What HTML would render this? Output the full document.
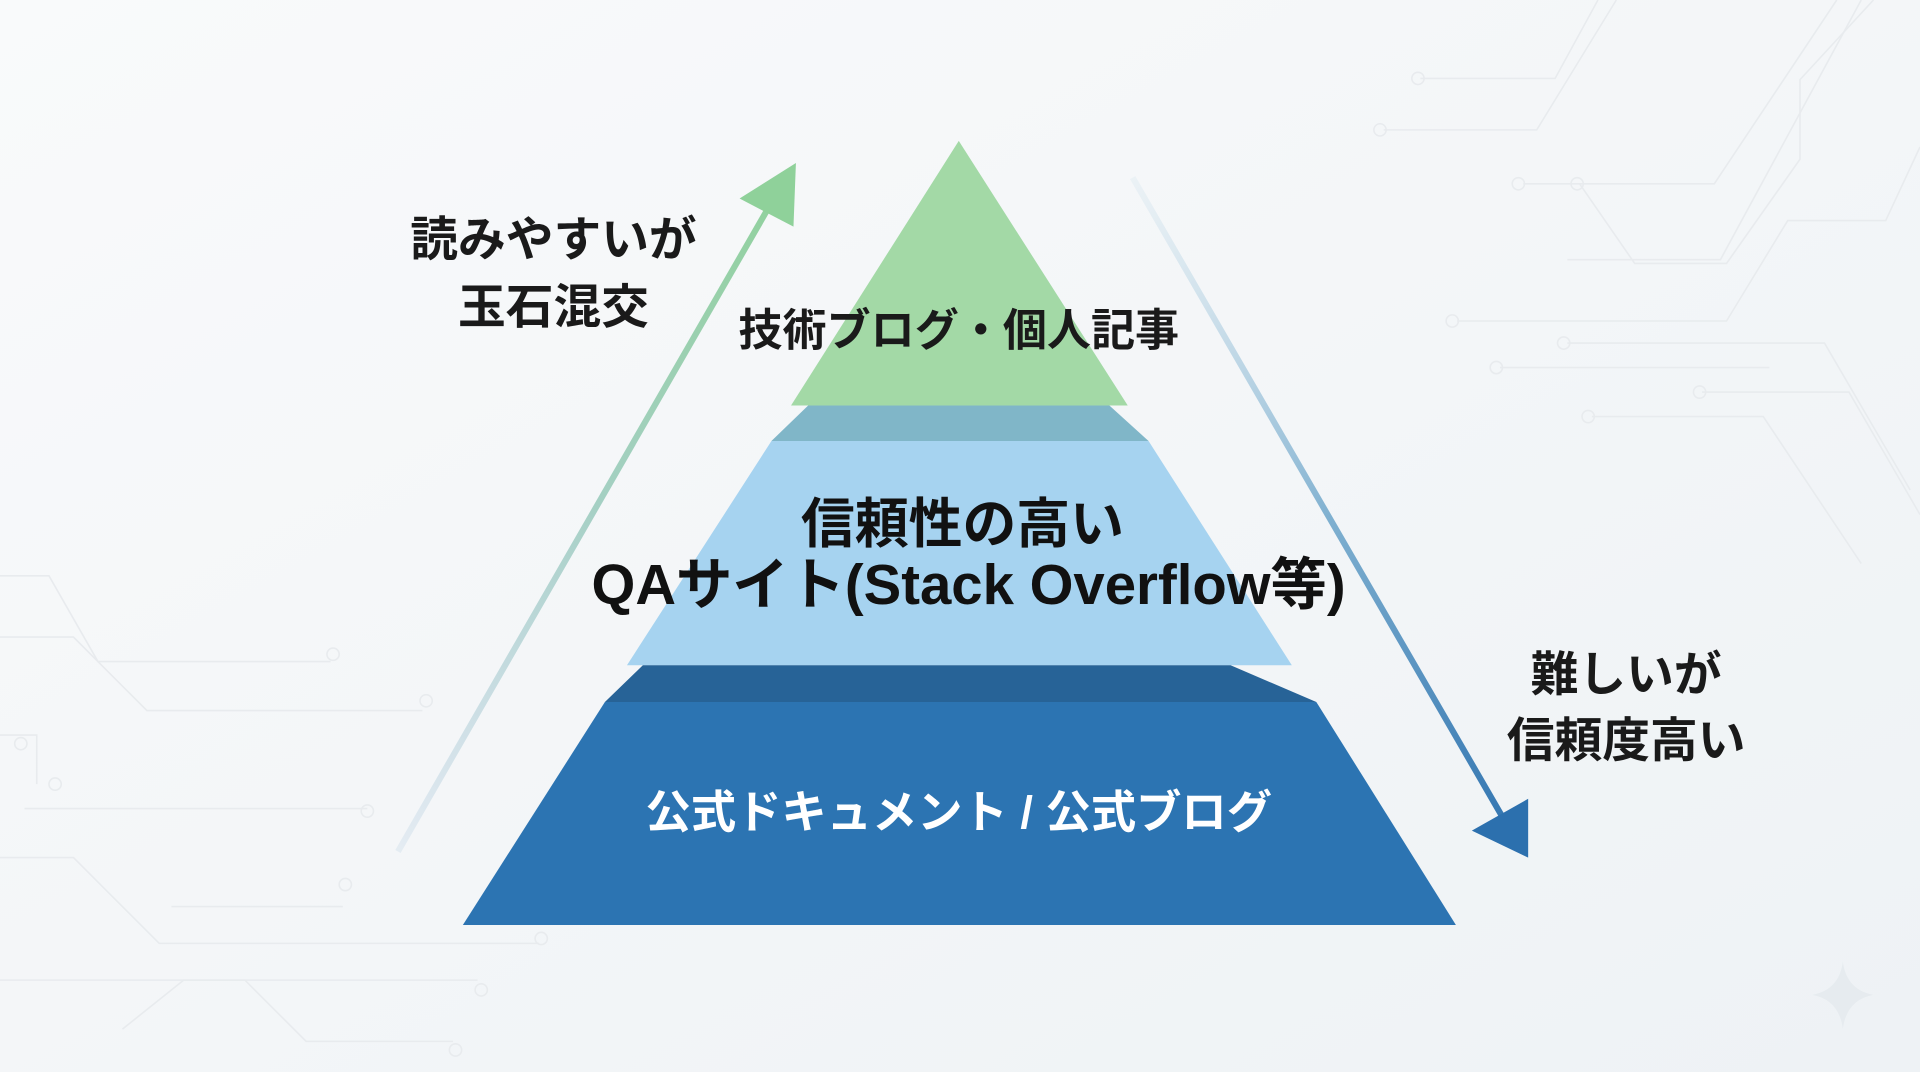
<!DOCTYPE html>
<html><head><meta charset="utf-8"><style>
html,body{margin:0;padding:0;width:1920px;height:1072px;overflow:hidden;background:#f3f6f8}
svg{display:block}
text{font-family:"Liberation Sans","Noto Sans CJK JP",sans-serif;font-weight:bold}
</style></head><body>
<svg width="1920" height="1072" viewBox="0 0 1568 875" preserveAspectRatio="none">
<defs>
<linearGradient id="bg" x1="0" y1="0" x2="1" y2="1"><stop offset="0" stop-color="#f9fafb"/><stop offset="1" stop-color="#eef2f5"/></linearGradient>
<linearGradient id="ga" x1="325" y1="695" x2="648" y2="133" gradientUnits="userSpaceOnUse"><stop offset="0" stop-color="#a9c4dc" stop-opacity="0.2"/><stop offset="0.5" stop-color="#a5d0c4"/><stop offset="1" stop-color="#8fd19a"/></linearGradient>
<linearGradient id="gb" x1="925" y1="145" x2="1248" y2="700" gradientUnits="userSpaceOnUse"><stop offset="0" stop-color="#c4dce8" stop-opacity="0.2"/><stop offset="0.5" stop-color="#7fb0d0"/><stop offset="1" stop-color="#2c70ae"/></linearGradient>
</defs>
<rect width="1568" height="875" fill="url(#bg)"/>
<g stroke="#e8ebee" stroke-width="1.3" fill="none">
<path d="M1160 64H1270L1305 0"/><circle cx="1158" cy="64" r="5"/>
<path d="M1130 106H1255L1320 0"/><circle cx="1127" cy="106" r="5"/>
<path d="M1244 150H1290L1335 215H1410L1470 130V65L1530 0"/><circle cx="1240" cy="150" r="5"/>
<path d="M1290 150H1400L1500 0"/><circle cx="1288" cy="150" r="5"/>
<path d="M1280 212H1405L1520 0"/>
<path d="M1190 262H1410L1460 180H1540L1568 120"/><circle cx="1186" cy="262" r="5"/>
<path d="M1280 280H1490L1560 400"/><circle cx="1277" cy="280" r="5"/>
<path d="M1225 300H1445"/><circle cx="1222" cy="300" r="5"/>
<path d="M1390 320H1510L1568 420"/><circle cx="1388" cy="320" r="5"/>
<path d="M1300 340H1440L1520 460"/><circle cx="1297" cy="340" r="5"/>
<path d="M0 470H40L80 540H270"/><circle cx="272" cy="534" r="5"/>
<path d="M0 520H60L120 580H345"/><circle cx="348" cy="572" r="5"/>
<path d="M0 600H30V640"/><circle cx="17" cy="607" r="5"/><circle cx="45" cy="640" r="5"/>
<path d="M20 660H300"/><circle cx="300" cy="662" r="5"/>
<path d="M0 700H60L130 770H440"/><circle cx="442" cy="766" r="5"/>
<path d="M140 740H280"/><circle cx="282" cy="722" r="5"/>
<path d="M0 800H200L250 850H370"/><circle cx="372" cy="857" r="5"/>
<path d="M100 840L150 800H390"/><circle cx="393" cy="808" r="5"/>
</g>
<path d="M325 695L636 155" stroke="url(#ga)" stroke-width="5" fill="none"/>
<polygon points="604,162 650,133 648,185" fill="#8fd19a"/>
<path d="M925 145L1230 672" stroke="url(#gb)" stroke-width="5" fill="none"/>
<polygon points="1202,678 1248,700 1248,652" fill="#2c70ae"/>
<polygon points="783,115 921,331 646,331" fill="#a3d9a6"/>
<polygon points="660,331 906,331 938,360 630,360" fill="#80b6c8"/>
<polygon points="630,360 938,360 1055,543 512,543" fill="#a6d3f0"/>
<polygon points="525,543 1005,543 1075,573 494,573" fill="#276397"/>
<polygon points="494,573 1075,573 1189,755 378,755" fill="#2c74b2"/>
<text x="783" y="282" font-size="36" text-anchor="middle" fill="#1a1a1a">技術ブログ・個人記事</text>
<text x="786" y="443" font-size="44" text-anchor="middle" fill="#111">信頼性の高い</text>
<text x="791" y="493" font-size="46" text-anchor="middle" fill="#111">QAサイト(Stack Overflow等)</text>
<text x="783" y="676" font-size="37" text-anchor="middle" fill="#fff">公式ドキュメント / 公式ブログ</text>
<text x="452" y="209" font-size="39" text-anchor="middle" fill="#1a1a1a">読みやすいが</text>
<text x="452" y="264" font-size="39" text-anchor="middle" fill="#1a1a1a">玉石混交</text>
<text x="1328" y="564" font-size="39" text-anchor="middle" fill="#1a1a1a">難しいが</text>
<text x="1328" y="618" font-size="39" text-anchor="middle" fill="#1a1a1a">信頼度高い</text>
<path d="M1505 785Q1508 808 1530 812Q1508 816 1505 840Q1502 816 1480 812Q1502 808 1505 785Z" fill="#e6ebef"/>
</svg>
</body></html>
